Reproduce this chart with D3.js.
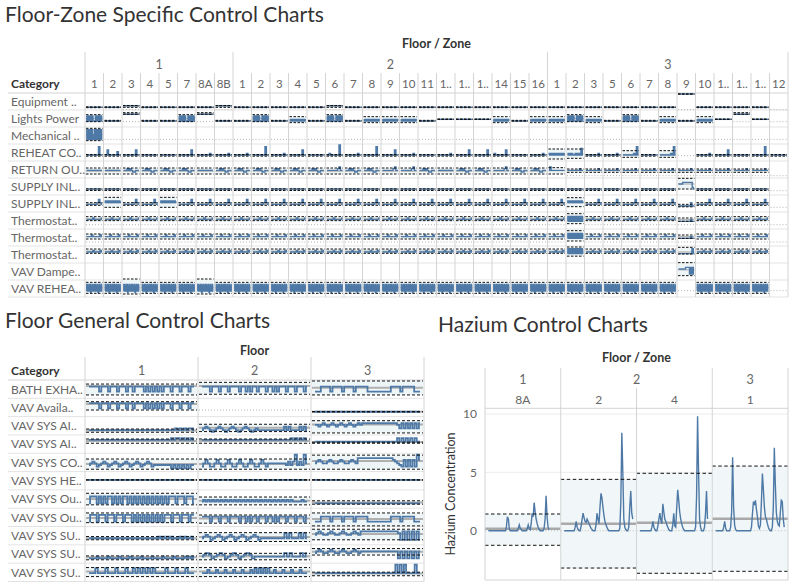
<!DOCTYPE html>
<html><head><meta charset="utf-8">
<script src="https://cdn.jsdelivr.net/npm/d3@7"></script>
<style>body{margin:0;background:#fff}</style>
</head><body>
<script>
// ================= DATA =================
// --- Floor-Zone Specific Control Charts ---
const fzFloors = ["1","2","3"];
const fzZones = [
  ["1","2","3","4","5","7","8A","8B"],
  ["1","2","3","4","5","6","7","8","9","10","11","1..","1..","1..","14","15","16"],
  ["1","2","3","5","6","7","8","9","10","1..","1..","1..","12"]
];
const fzCategories = ["Equipment ..","Lights Power","Mechanical ..","REHEAT CO..","RETURN OU..","SUPPLY INL..","SUPPLY INL..","Thermostat..","Thermostat..","Thermostat..","VAV Dampe..","VAV REHEA.."];
// zero level of each category row (row-relative units 0..9)
const fzZero = [-0.4, 2.6, 2.2, 2.6, 0.8, 2.0, 2.2, 2.0, 1.8, NaN, NaN, 3.2];
// cell variants per category: key -> [UCL, LCL, mean, series levels]
const fzVariants = [
  {a:[1.3,0.8,1,"111111111111"], b:[2.1,1.0,1.5,"222222222222"], h:[9,9,9,"999999999999"], e:null},
  {a:[3.4,2.9,3,"333333333333"], B:[6.8,2.6,4.5,"63636363636333363636363636"], C:[5.6,2.0,3.6,"434343434343434343434343"], h:[8,7,7.5,"777777777777"], g:[4.2,3.9,4,"444444444444"], e:null},
  {M:[8.8,1.4,5,"2828282828252828282828282"], e:null},
  {a:[3.3,2.3,2.8,"333333333333"], t:[3.3,2.3,2.8,"333333333833"], p:[3.3,2.3,2.8,"336333333533"], m:[3.3,2.3,2.8,"333333333633"], s:[3.3,2.3,2.8,"333333333433"], q:[3.3,2.3,2.8,"334333333933"], r:[3.3,2.3,2.8,"343333333633"], W:[6.6,0.6,3.6,"343434343434343434343434"], V:[6.6,1.0,3.6,"343433434373"], X:[5.6,1.6,3.3,"333333334383"], e:null},
  {a:[5.4,1.8,3.5,"444444444444"], b:[5.4,1.8,3.5,"444545433444"], c:[5.4,1.8,3.5,"444444445644"], d:[4.8,2.8,3.8,"444444444544"], f:[5.6,1.8,3.8,"464444444444"], e:null},
  {a:[3.1,2.1,2.6,"333333333333"], h:[9.4,3.0,6,"66667777777743"], e:null},
  {a:[5.0,3.4,4.2,"444444445754"], w:[8.2,2.2,5,"565656565656565656565656"], B:[8.0,2.6,5,"565656565656565656565656"], l:[4.0,2.5,3.2,"333333333533"], e:null},
  {a:[6.8,4.4,5.6,"555556555556"], B:[8.6,2.6,5.5,"474747474747474747474747"], l:[6.0,4.0,5,"444444444544"], e:null},
  {a:[6.6,3.6,5.1,"555565555565"], B:[8.6,2.4,5.5,"474747474747474747474747"], l:[6.0,4.0,5,"444444444544"], e:null},
  {a:[7.8,5.2,6.5,"666667666676"], B:[9.0,3.5,6,"585858585858585858585858"], l:[8.8,4.8,6,"555555555585"], e:null},
  {h:[9.8,2.0,5.5,"6666667773737"], e:null},
  {a:[8.2,1.6,5,"373637372637363737363726373637"], w:[10.2,1.2,5,"373637372637363737363726373637"], e:null}
];
// which variant each zone cell uses (per category, per floor)
const fzLayout = [
  ["aabaaaab","aaaaabaaaaaaaaaaa","aaaaaaahaaaae"],
  ["BahaaBha","aBaCaBaCCCagggCaC","CBCaBaCaCghge"],
  ["Meeeeeee","eeeeeeeeeeeeeeeee","eeeeeeeeeeeee"],
  ["tpmaamss","stsmaqstmsasmmras","WVssXaXesmata"],
  ["aabbbbab","bbbbbcbbccbabbcbb","fddddddddddde"],
  ["aaaaaaaa","aaaaaaaaaaaaaaaaa","aaaaaaahaaaae"],
  ["awaawaaa","aaaaaaaaaaaaaaaaa","aBaaaaalaaaae"],
  ["aaaaaaaa","aaaaaaaaaaaaaaaaa","aBaaaaalaaaae"],
  ["aaaaaaaa","aaaaaaaaaaaaaaaaa","aBaaaaalaaaae"],
  ["aaaaaaaa","aaaaaaaaaaaaaaaaa","aBaaaaalaaaae"],
  ["eeeeeeee","eeeeeeeeeeeeeeeee","eeeeeeeheeeee"],
  ["aawaaawa","aaaaaaaaaaaaaaaaa","aaaaaaaeaaaae"]
];

// --- Floor General Control Charts ---
const fgFloors = ["1","2","3"];
const fgCategories = ["BATH EXHA..","VAV Availa..","VAV SYS AI..","VAV SYS AI..","VAV SYS CO..","VAV SYS HE..","VAV SYS Ou..","VAV SYS Ou..","VAV SYS SU..","VAV SYS SU..","VAV SYS SU.."];
const fgUCL  = [[7.5,8.5,9.3],[7.9,NaN,2.1],[2.6,5.4,7.5],[7.5,7.5,5.6],[6.5,6.5,8.8],[5.1,5.1,5.1],[7.9,5.7,3.5],[7.1,5.9,7.1],[4.0,6.3,8.3],[3.4,4.9,7.7],[7.3,7.3,4.6]];
const fgLCL  = [[1.1,1.5,1.1],[3.0,NaN,1.9],[0.7,1.1,0.3],[5.0,5.0,5.0],[0.5,0.5,0.5],[4.9,4.9,4.9],[1.1,1.1,1.5],[1.4,1.1,-0.5],[2.1,1.1,2.1],[1.1,1.1,3.9],[2.0,2.0,2.5]];
const fgMean = [[6.4,6.4,5.4],[6.5,NaN,2.0],[1.8,3.3,5.2],[6.4,6.4,5.8],[3.6,3.6,5.4],[5,5,5],[4.5,3.5,2.5],[4.2,3.8,3.6],[3.0,3.8,5.5],[2.6,3.2,5.8],[5.0,5.0,3.8]];
const fgZero = [NaN, 3.0, NaN, NaN, NaN, NaN, NaN, NaN, NaN, NaN, NaN];
const fgSeries = [
  ["666663666366636663663666636363636366636663666366","666636663666366663663636636663663636663666366636","3336666366663666636666633333333336666366666333"],
  ["777774777477747774774777747474747477747774777477","","2222222222222222222222222222222222222222"],
  ["222222222222222222222222222222222222222323232332","2343212343212343212343212322222222222242422224242","5545654565456545654565666666666666666653636363636"],
  ["7777777777777777777777777777777777777787887878787","7777777777777777777777777777777777777777787878787","6666666666666666666666666666666666666686868686866"],
  ["3454234542345423454234542345423333333313131313133","246422464224642246422464224642444444443535935394","4565445654456544565477777777777777776543262626296"],
  ["5555555555555555555555555555555555555555","5555555555555555555555555555555555555555","5555555555555555555555555555555555555555"],
  ["2666262626626262662626262626262626262666266626662","3434343434343434343434343434343434343434343333433","2222222222222222222222222222222222222222222222222"],
  ["2666266626662666266626262626262626266626662666266","555525552555255552552525525552552525552555255525","2225555255552555525555522222222225555255555222"],
  ["3333333333333333333333333333333343434343334343343","345423454234542345423454233333333336363336363","5676556765567655676577777777777777776272727272"],
  ["2222322223222232222322223222232222322223222232323","3454234542345423454233333333333535333535","5676556765567655676566666666666666662626262626"],
  ["4447444744474447447474747474444744474447444","44464446444644464446444647474747446444644464446444","44444444444444444444444444444444444444949494444944"]
];

// --- Hazium Control Charts ---
const hzFloors = ["1","2","3"];
const hzZones = [["8A"],["2","4"],["1"]];
const hzUCL  = [1.43, 4.40, 4.92, 5.54];
const hzLCL  = [-1.25, -3.20, -3.65, -3.48];
const hzMean = [0.17, 0.60, 0.69, 1.03];
const hzTicks = [0, 5, 10];
const hzSeries = [
  [0,0,0,0,0,0,0,0,0,0,0,0,0,0,0,0,0,0,0.3,1.2,1.0,0.1,0,0,0,0,0,0,0,0,0.2,0.5,0.2,0.1,0,0,0,0,0,0.2,0.5,0.2,0.1,0.6,1.5,1.2,2.4,1.6,1.0,0.6,0.3,0.1,0,0,0,0,0.2,1.0,3.0,1.2,0.3,0.1],
  [0,0,0,0,0,0,0,0,0,0,0,0.3,0.8,0.3,0.1,0,0,0.4,1.0,1.5,1.1,0.8,0.7,1.0,0.8,0.6,0.4,0.2,0.1,0,0,0,0.5,1.5,1.0,0.6,2.0,3.2,2.8,2.0,1.3,0.8,0.5,0.3,0.1,0,0,0,0,0,0,0,0,0,0,0,0.2,2.5,8.4,5.0,1.0,0.3,0.1,0,0,0.3,2.0,3.4,1.5,1.0],
  [0,0,0,0,0,0,0,0,0,0,0,0,0.3,0.8,0.3,0.1,0,0,0.4,1.0,1.5,0.9,0.6,2.3,1.6,1.0,0.8,0.5,0.3,0.1,0,0,0,0.5,1.5,0.4,0.3,2.0,3.5,2.6,1.6,1.0,0.6,0.3,0.1,0,0,0,0,0,0,0,0,0,0,0,0.3,3.0,9.8,5.0,1.0,0.3,0,0,0,0.3,1.5,3.4,1.0],
  [0,0,0,0,0,0,0,0,0.3,0.8,0.2,0,0,0,0,0.3,1.6,6.3,2.0,0.5,0.1,0,0,0,0,0,0,0,0,0,0,0,0,0,0,0,0.3,1.5,2.5,2.2,2.6,1.8,1.2,0.4,0.2,0.5,2.5,4.9,3.5,2.0,1.2,1.0,0.6,0.3,0.1,0,0,0.3,2.0,7.1,4.0,1.6,0.8,0.5,0.4,1.5,2.6,2.5,1.0,0.3]
];

// ================= DRAWING =================
const W = 793, H = 587;
const FONT = "Lato, 'Open Sans', 'DejaVu Sans', sans-serif";
const COL = {grid:"#d4d4d4", rowline:"#e3e3e3", lab:"#666", head:"#333", blue:"#4e79a7",
             mean:"#b0b0b0", band:"#eef5f7", dash:"#111", zero:"#b5b5b5"};
const svg = d3.select("body").append("svg").attr("width",W).attr("height",H)
  .style("font-family",FONT);

function txt(g,x,y,s,o={}){
  return g.append("text").attr("x",x).attr("y",y).text(s)
    .attr("font-size",o.size||11).attr("font-weight",o.bold?700:400)
    .attr("fill",o.fill||COL.lab).attr("text-anchor",o.anchor||"start");
}
function hline(g,x1,x2,y,c){g.append("line").attr("x1",x1).attr("x2",x2).attr("y1",y).attr("y2",y).attr("stroke",c).attr("stroke-width",1);}
function vline(g,x,y1,y2,c){g.append("line").attr("x1",x).attr("x2",x).attr("y1",y1).attr("y2",y2).attr("stroke",c).attr("stroke-width",1);}
const digits = s => s.split("").map(Number);

function drawCell(g, x1, x2, yS, ucl, lcl, mean, series, o){
  const pad = o.pad;
  if (!isNaN(ucl)) {
    g.append("rect").attr("x",x1+1).attr("width",x2-x1-2)
      .attr("y",yS(ucl)).attr("height",Math.max(0,yS(lcl)-yS(ucl))).attr("fill",COL.band);
  }
  if (o.zero!==undefined && !isNaN(o.zero)) {
    g.append("line").attr("x1",x1+1).attr("x2",x2-1).attr("y1",yS(o.zero)).attr("y2",yS(o.zero))
      .attr("stroke",COL.zero).attr("stroke-width",1).attr("stroke-dasharray","1,2");
  }
  if (!series || !series.length) return;
  g.append("line").attr("x1",x1+1).attr("x2",x2-1).attr("y1",yS(mean)).attr("y2",yS(mean))
    .attr("stroke",COL.mean).attr("stroke-width",o.meanW);
  const xs = d3.scaleLinear().domain([0,series.length-1]).range([x1+pad,x2-pad]);
  g.append("path").datum(series)
    .attr("d", d3.line().x((d,i)=>xs(i)).y(d=>yS(d)).curve(o.curve))
    .attr("fill","none").attr("stroke",COL.blue).attr("stroke-width",o.lineW);
  [ucl,lcl].forEach(v=>{
    g.append("line").attr("x1",x1+1).attr("x2",x2-1).attr("y1",yS(v)).attr("y2",yS(v))
      .attr("stroke",COL.dash).attr("stroke-width",1).attr("stroke-dasharray",o.dashes);
  });
}

// ---------- Chart 1 : Floor-Zone ----------
{
  const g = svg.append("g");
  txt(g,5,21.5,"Floor-Zone Specific Control Charts",{size:21,fill:"#333"});
  const cols = [];
  fzZones.forEach((zs,f)=>zs.forEach((z,k)=>cols.push({f,k,z})));
  const xB = d3.scaleBand().domain(d3.range(cols.length)).range([85,788]);
  const yB = d3.scaleBand().domain(d3.range(fzCategories.length)).range([93,297]);
  const cw = xB.bandwidth(), rh = yB.bandwidth();

  txt(g,436.5,48,"Floor / Zone",{size:12.5,bold:true,fill:COL.head,anchor:"middle"});
  txt(g,11,88,"Category",{size:12,bold:true,fill:COL.head});
  let start = 0;
  fzFloors.forEach((fl,f)=>{
    const n = fzZones[f].length;
    const xa = xB(start), xb = xB(start+n-1)+cw;
    txt(g,(xa+xb)/2,68.5,fl,{size:12.5,anchor:"middle"});
    start += n;
  });
  cols.forEach((c,i)=>txt(g,xB(i)+cw/2,87.5,c.z,{size:11.5,anchor:"middle"}));

  yB.domain().forEach(r=>hline(g,8,788,yB(r)+rh,COL.rowline));
  hline(g,8,788,93,COL.grid);
  cols.forEach((c,i)=>{ if(c.k>0) vline(g,xB(i),73,297,COL.grid); });
  start=0; vline(g,85,52,297,COL.grid);
  fzFloors.forEach((fl,f)=>{ start+=fzZones[f].length; vline(g,xB(start-1)+cw,52,297,COL.grid); });

  fzCategories.forEach((cat,r)=>{
    const top = yB(r);
    txt(g,11,top+12.5,cat,{size:12});
    const yS = d3.scaleLinear().domain([0,9]).range([top+16,top+1]);
    cols.forEach((c,i)=>{
      const key = fzLayout[r][c.f][c.k];
      const v = fzVariants[r][key];
      const x1 = xB(i), x2 = x1+cw;
      const cg = g.append("g");
      if (!v) { drawCell(cg,x1,x2,yS,NaN,NaN,NaN,null,{zero:fzZero[r]}); return; }
      const [u,l,m,s] = v;
      const showZero = !isNaN(fzZero[r]) && (l - fzZero[r]) > 1.3;
      drawCell(cg,x1,x2,yS,u,l,m,digits(s),
        {pad:1.5,curve:d3.curveStep,lineW:1.4,meanW:1.2,dashes:"2.5,1.5",zero:showZero?fzZero[r]:NaN});
    });
  });
}

// ---------- Chart 2 : Floor General ----------
{
  const g = svg.append("g");
  txt(g,5,328,"Floor General Control Charts",{size:21,fill:"#333"});
  const xB = d3.scaleBand().domain(fgFloors).range([85,424]);
  const yB = d3.scaleBand().domain(d3.range(fgCategories.length)).range([380,581.5]);
  const cw = xB.bandwidth(), rh = yB.bandwidth();
  txt(g,254.5,355,"Floor",{size:12.5,bold:true,fill:COL.head,anchor:"middle"});
  txt(g,11,375,"Category",{size:12,bold:true,fill:COL.head});
  fgFloors.forEach(f=>txt(g,xB(f)+cw/2,375,f,{size:12.5,anchor:"middle"}));
  yB.domain().forEach(r=>hline(g,8,424,yB(r)+rh,COL.rowline));
  hline(g,8,424,380,COL.grid);
  vline(g,85,357,581.5,COL.grid);
  fgFloors.forEach(f=>vline(g,xB(f)+cw,357,581.5,COL.grid));
  fgCategories.forEach((cat,r)=>{
    const top = yB(r);
    txt(g,11,top+13.5,cat,{size:12});
    const yS = d3.scaleLinear().domain([0,9]).range([top+rh-1.5,top+1.5]);
    fgFloors.forEach((f,fi)=>{
      const x1 = xB(f), x2 = x1+cw;
      const s = fgSeries[r][fi];
      const cg = g.append("g");
      if (!s) { drawCell(cg,x1,x2,yS,NaN,NaN,NaN,null,{zero:fgZero[r]}); return; }
      drawCell(cg,x1,x2,yS,fgUCL[r][fi],fgLCL[r][fi],fgMean[r][fi],digits(s),
        {pad:4,curve:d3.curveStep,lineW:1.8,meanW:2,dashes:"3,2"});
    });
  });
}

// ---------- Chart 3 : Hazium ----------
{
  const g = svg.append("g");
  txt(g,438,332,"Hazium Control Charts",{size:21,fill:"#333"});
  const colsZ = [];
  hzZones.forEach((zs,f)=>zs.forEach((z,k)=>colsZ.push({f,k,z})));
  const xB = d3.scaleBand().domain(d3.range(colsZ.length)).range([485,788]);
  const cw = xB.bandwidth();
  const yS = d3.scaleLinear().domain([0,10]).range([530.7,414]);
  const top = 408.3, bot = 580;
  txt(g,636.5,362,"Floor / Zone",{size:12.5,bold:true,fill:COL.head,anchor:"middle"});
  let start=0;
  hzFloors.forEach((fl,f)=>{
    const n=hzZones[f].length, xa=xB(start), xb=xB(start+n-1)+cw;
    txt(g,(xa+xb)/2,383.5,fl,{size:12.5,anchor:"middle"});
    start+=n;
  });
  colsZ.forEach((c,i)=>txt(g,xB(i)+cw/2,403.5,c.z,{size:12,anchor:"middle"}));

  hzTicks.filter(t=>t!==0).forEach(t=>hline(g,485,788,yS(t),"#ececec"));
  colsZ.forEach((c,i)=>{
    const x1=xB(i), x2=x1+cw;
    g.append("rect").attr("x",x1).attr("width",cw).attr("y",yS(hzUCL[i]))
      .attr("height",yS(hzLCL[i])-yS(hzUCL[i])).attr("fill","#f1f7f8");
    g.append("line").attr("x1",x1).attr("x2",x2).attr("y1",yS(0)).attr("y2",yS(0))
      .attr("stroke","#bdbdbd").attr("stroke-dasharray","1,2");
    g.append("line").attr("x1",x1).attr("x2",x2).attr("y1",yS(hzMean[i])).attr("y2",yS(hzMean[i]))
      .attr("stroke","#a9a9a9").attr("stroke-width",2.5);
    const xt = d3.scaleLinear().domain([0,69]).range([x1+3.5,x1+72]);
    g.append("path").datum(hzSeries[i])
      .attr("d",d3.line().x((d,j)=>xt(j)).y(d=>yS(d)))
      .attr("fill","none").attr("stroke",COL.blue).attr("stroke-width",1.4);
    [hzUCL[i],hzLCL[i]].forEach(v=>g.append("line").attr("x1",x1).attr("x2",x2)
      .attr("y1",yS(v)).attr("y2",yS(v)).attr("stroke",COL.dash).attr("stroke-dasharray","3.5,2.5"));
  });
  hline(g,485,788,top,COL.grid); hline(g,485,788,bot,COL.grid);
  vline(g,485,368,bot,COL.grid);
  start=0;
  hzFloors.forEach((fl,f)=>{ start+=hzZones[f].length; vline(g,xB(start-1)+cw,368,bot,COL.grid); });
  colsZ.forEach((c,i)=>{ if(c.k>0) vline(g,xB(i),388,bot,COL.grid); });
  const ax = g.append("g").attr("transform","translate(485,0)")
    .call(d3.axisLeft(yS).tickValues(hzTicks).tickSize(0).tickPadding(8));
  ax.select(".domain").remove();
  ax.selectAll("text").attr("font-family",FONT).attr("font-size",12).attr("fill",COL.lab);
  g.append("text").attr("transform","translate(455,494) rotate(-90)")
    .attr("text-anchor","middle").attr("font-size",12.5).attr("fill",COL.head)
    .text("Hazium Concentration");
}
</script>
</body></html>
